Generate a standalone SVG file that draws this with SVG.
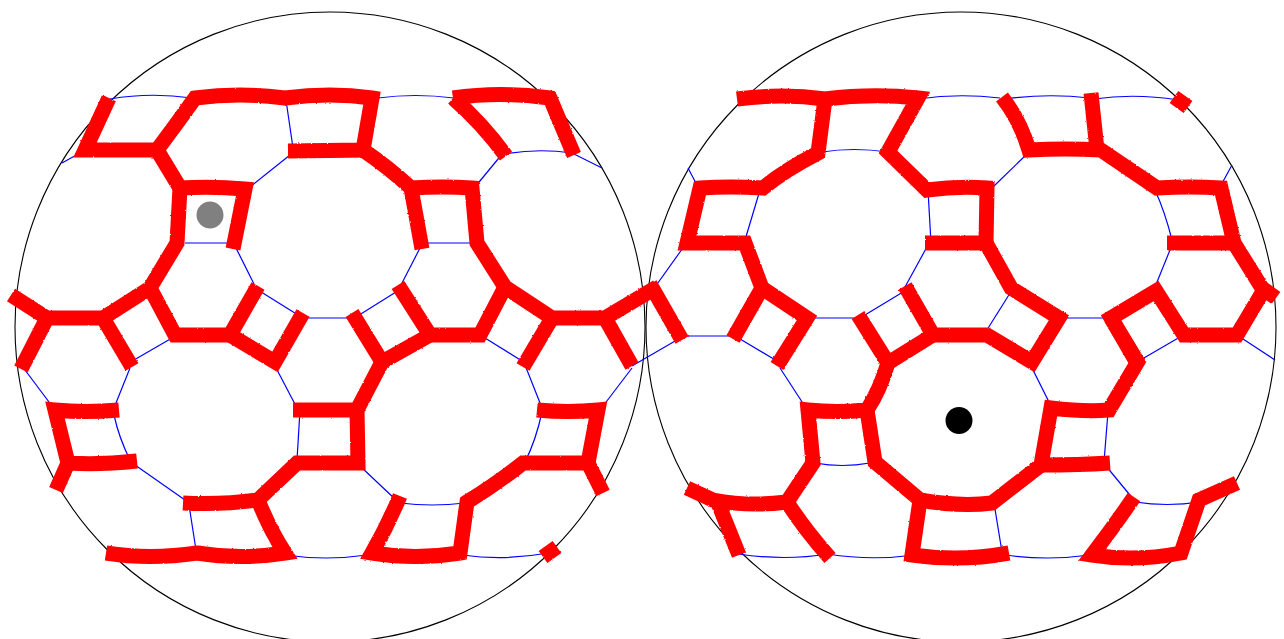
<svg xmlns="http://www.w3.org/2000/svg" width="1284" height="639" viewBox="0 0 1284 639">
<defs>
<filter id="rough" x="-5%" y="-5%" width="110%" height="110%" filterUnits="objectBoundingBox"><feTurbulence type="fractalNoise" baseFrequency="0.6" numOctaves="1" seed="3"/><feDisplacementMap in="SourceGraphic" scale="2.2" xChannelSelector="R" yChannelSelector="G"/></filter>
</defs>
<style>
.c{fill:none;stroke:#000;stroke-width:1.1}
.b{fill:none;stroke:#0000ff;stroke-width:1.2}
.r{fill:none;stroke:#ff0000;stroke-width:15;stroke-linejoin:miter;stroke-linecap:butt}
</style>
<rect width="1284" height="639" fill="#fff"/>
<g id="circles">
<circle class="c" cx="330" cy="327" r="315"/>
<circle class="c" cx="961" cy="327" r="315"/>
</g>
<g id="blue-left" class="b">
<path d="M110,99Q150,92 192,98"/><path d="M62,163L80,153"/><path d="M286,100L293,148"/><path d="M250,187L290,155"/>
<path d="M185,243H230"/><path d="M236,248L254,284"/><path d="M258,290L298,315"/><path d="M300,318H350"/>
<path d="M356,317L396,292"/><path d="M401,285L420,248"/><path d="M425,243H472"/><path d="M475,187L503,153"/>
<path d="M505,154Q538,148 572,153"/><path d="M572,153L602,168"/><path d="M378,98Q415,93 454,98"/>
<path d="M25,370L52,406"/><path d="M130,368L114,408"/><path d="M114,415Q119,438 130,460"/><path d="M135,465L185,500"/>
<path d="M189,505L196,550"/><path d="M134,360L172,338"/><path d="M275,366L297,408"/><path d="M300,410L297,460"/>
<path d="M285,555Q326,561 367,555"/><path d="M360,466L396,500"/><path d="M400,503Q432,507 465,503"/>
<path d="M462,555Q505,561 548,553"/><path d="M525,462Q536,440 542,412"/><path d="M525,365L542,408"/><path d="M485,338L522,361"/>
<path d="M600,410L632,368"/><path d="M632,366L682,337"/>
</g>
<g id="blue-right" class="b">
<path d="M688,168L698,187"/><path d="M760,190L745,240"/><path d="M685,245L655,287"/><path d="M685,336H730"/>
<path d="M735,336L777,361"/><path d="M810,318H856"/><path d="M860,318L903,292"/><path d="M905,287L928,245"/>
<path d="M928,190L931,243"/><path d="M822,152Q853,147 888,152"/><path d="M918,99Q958,93 1000,98"/><path d="M1005,99Q1047,93 1090,98"/>
<path d="M1094,99Q1135,93 1178,100"/><path d="M1028,153L993,187"/><path d="M1155,190Q1165,212 1172,240"/><path d="M1172,245L1155,287"/>
<path d="M1060,318H1108"/><path d="M985,333L1012,290"/><path d="M1220,187L1232,165"/><path d="M1137,362L1180,337"/><path d="M1240,337L1275,360"/>
<path d="M780,368L806,408"/><path d="M815,463Q842,468 870,463"/><path d="M738,554Q785,561 828,554"/><path d="M828,554Q870,561 915,555"/>
<path d="M1031,366L1052,408"/><path d="M1108,412L1104,462"/><path d="M1106,466L1134,500"/><path d="M1135,502Q1167,507 1200,502"/>
<path d="M994,503L1002,552"/><path d="M1005,555Q1047,561 1090,555"/>
</g>
<g id="red-left" class="r" filter="url(#rough)">
<path d="M109,98L85,150H157"/>
<path d="M157,150L180,188M157,150L177,123L195,98Q240,92 285,98Q331,92 372,98L363,150L288,151"/>
<path d="M363,150Q388,167 411,188Q443,186 472,188L477,243L505,287L552,318H605L657,287"/>
<path d="M411,188L422,249"/>
<path d="M605,318L632,366"/>
<path d="M552,318L523,367"/>
<path d="M505,287L480,335H430L398,285"/>
<path d="M430,335L382,362L352,313"/>
<path d="M382,362L357,410H293"/>
<path d="M357,410L358,463H297L258,500Q220,505 183,503"/>
<path d="M258,500Q270,530 285,553Q240,560 197,553Q150,560 106,553"/>
<path d="M180,188Q213,186 245,189L233,249"/>
<path d="M180,188L177,243L150,288L103,318H47L11,295"/>
<path d="M47,318L21,369"/>
<path d="M103,318L132,367"/>
<path d="M150,288L175,335H230L258,286"/>
<path d="M230,335L275,362L303,313"/>
<path d="M119,410Q85,413 55,410L68,463Q100,465 137,461"/>
<path d="M68,463L56,490"/>
<path d="M537,410Q568,413 598,410L588,463Q555,463 523,463Q495,485 467,502L460,553Q415,560 372,553Q388,525 400,496"/>
<path d="M588,463L603,493"/>
<path d="M543,557L557,547"/>
<path d="M453,98Q500,91 550,98L574,155"/>
<path d="M453,98Q482,123 506,156"/>
</g>
<g id="red-right" class="r" filter="url(#rough)">
<path d="M650,284L682,340"/>
<path d="M737,99Q783,93 825,99Q873,93 918,98L888,152L927,190Q957,186 987,188L986,243H925"/>
<path d="M825,99L818,153Q785,170 763,188Q730,186 700,188L687,243H745L762,288L733,339"/>
<path d="M762,288L807,318L777,366"/>
<path d="M986,243L1011,288L1059,318L1032,362L987,335H933L905,286"/>
<path d="M933,335L888,363L858,315"/>
<path d="M888,363Q880,390 867,410Q837,413 808,410L813,463L787,502Q750,507 713,500L687,488"/>
<path d="M718,503L739,555"/>
<path d="M787,502Q805,530 830,558"/>
<path d="M867,410L875,462L920,500Q960,507 992,503L1041,465L1051,408Q1085,412 1109,410L1137,363L1111,318L1156,291L1184,335H1237L1262,293"/>
<path d="M1111,318L1140,366"/>
<path d="M1041,465Q1080,465 1110,463"/>
<path d="M920,500L912,555Q960,562 1009,553"/>
<path d="M1134,497Q1115,525 1092,555Q1135,562 1181,553L1199,500L1237,483"/>
<path d="M1276,298L1262,288L1234,243L1221,188Q1190,186 1157,188L1101,150Q1065,148 1029,150Q1020,120 1002,97"/>
<path d="M1231,243H1167"/>
<path d="M1097,150L1091,93"/>
<path d="M1174,97L1188,107"/>
</g>
<g id="markers">
<circle cx="210" cy="215" r="13.5" fill="#808080"/>
<circle cx="959" cy="420.500" r="13.500" fill="#000"/>
</g>
</svg>
